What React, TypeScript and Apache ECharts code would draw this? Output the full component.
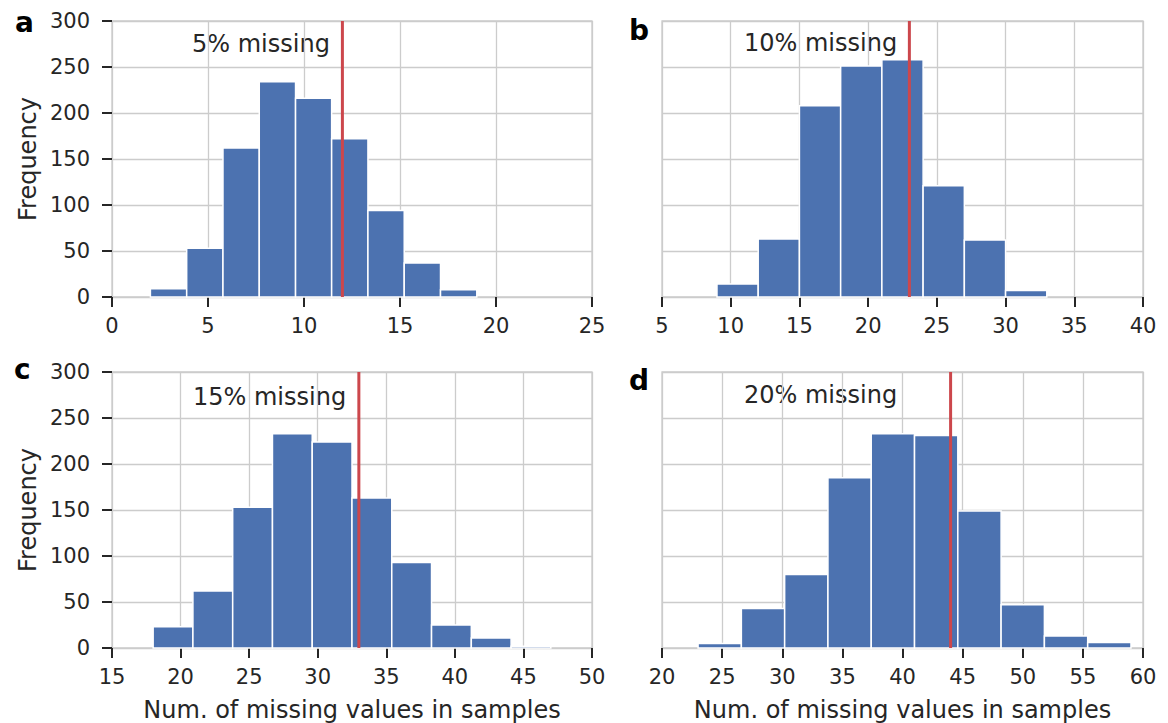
import React, { useEffect, useRef } from "react";
import * as echarts from "echarts";

// ---- data ----
const edgesA = [2, 3.89, 5.78, 7.67, 9.56, 11.44, 13.33, 15.22, 17.11, 19];
const countsA = [9, 53, 162, 234, 216, 172, 94, 37, 8];
const edgesB = [9, 12, 15, 18, 21, 24, 27, 30, 33];
const countsB = [14, 63, 208, 251, 258, 121, 62, 7];
const edgesC = [18, 20.9, 23.8, 26.7, 29.6, 32.5, 35.4, 38.3, 41.2, 44.1, 47];
const countsC = [23, 62, 153, 233, 224, 163, 93, 25, 11, 2];
const edgesD = [23, 26.6, 30.2, 33.8, 37.4, 41, 44.6, 48.2, 51.8, 55.4, 59];
const countsD = [5, 43, 80, 185, 233, 231, 149, 47, 13, 6];

const redLines = [12, 23, 33, 44];
const xRanges = [
  [0, 25],
  [5, 40],
  [15, 50],
  [20, 60],
];
const panelLabels = ["a", "b", "c", "d"];
const missingLabels = ["5% missing", "10% missing", "15% missing", "20% missing"];
const yMax = 300;
const yStep = 50;
const xStep = 5;
const xName = "Num. of missing values in samples";
const yName = "Frequency";

const BLUE = "#4c72b0";
const RED = "#cc474c";
const TXT = "#262626";
const GRIDC = "#cccccc";
const FONT = "DejaVu Sans";

function toBins(edges: number[], counts: number[]) {
  return counts.map((c, i) => [edges[i], edges[i + 1], c]);
}

const App: React.FC = () => {
  const ref = useRef<HTMLDivElement>(null);
  useEffect(() => {
    if (!ref.current) return;
    const chart = echarts.init(ref.current, null, { renderer: "svg" });
    const grids = [
      { left: 112, top: 21, width: 480, height: 276 },
      { left: 662, top: 21, width: 481, height: 276 },
      { left: 112, top: 372, width: 480, height: 276 },
      { left: 662, top: 372, width: 481, height: 276 },
    ];
    const binsAll = [
      toBins(edgesA, countsA),
      toBins(edgesB, countsB),
      toBins(edgesC, countsC),
      toBins(edgesD, countsD),
    ];
    const xAxes = grids.map((_, i) => ({
      type: "value",
      gridIndex: i,
      min: xRanges[i][0],
      max: xRanges[i][1],
      interval: xStep,
      axisLine: { show: false },
      axisTick: { show: true, length: 10, lineStyle: { color: TXT, width: 2 } },
      axisLabel: { fontSize: 21, color: TXT, fontFamily: FONT, margin: 18 },
      splitLine: { show: true, lineStyle: { color: GRIDC, width: 1.3 } },
      name: i >= 2 ? xName : "",
      nameLocation: "middle",
      nameGap: 50,
      nameTextStyle: { fontSize: 24, color: TXT, fontFamily: FONT },
    }));
    const yAxes = grids.map((_, i) => ({
      type: "value",
      gridIndex: i,
      min: 0,
      max: yMax,
      interval: yStep,
      axisLine: { show: false },
      axisTick: { show: i % 2 === 0, length: 10, lineStyle: { color: TXT, width: 2 } },
      axisLabel: { show: i % 2 === 0, fontSize: 21, color: TXT, fontFamily: FONT, margin: 22 },
      splitLine: { show: true, lineStyle: { color: GRIDC, width: 1.3 } },
      name: i % 2 === 0 ? yName : "",
      nameLocation: "middle",
      nameGap: 72,
      nameRotate: 90,
      nameTextStyle: { fontSize: 24, color: TXT, fontFamily: FONT },
    }));
    const series: any[] = [];
    binsAll.forEach((bins, i) => {
      series.push({
        type: "custom",
        xAxisIndex: i,
        yAxisIndex: i,
        data: bins,
        encode: { x: [0, 1], y: 2 },
        renderItem: (_p: any, api: any) => {
          const p0 = api.coord([api.value(0), api.value(2)]);
          const p1 = api.coord([api.value(1), 0]);
          return {
            type: "rect",
            shape: { x: p0[0], y: p0[1], width: p1[0] - p0[0], height: p1[1] - p0[1] },
            style: { fill: BLUE, stroke: "#ffffff", lineWidth: 1.5 },
          };
        },
      });
    });
    redLines.forEach((v, i) => {
      series.push({
        type: "line",
        xAxisIndex: i,
        yAxisIndex: i,
        data: [
          [v, 0],
          [v, yMax],
        ],
        symbol: "none",
        lineStyle: { color: RED, width: 3 },
        z: 5,
      });
    });
    const letterPos = [
      [15, 22],
      [629, 30],
      [14, 369],
      [629, 380],
    ];
    const notePos = [
      [192, 44],
      [744, 43],
      [193, 397],
      [744, 395],
    ];
    const graphic: any[] = [];
    panelLabels.forEach((t, i) => {
      graphic.push({
        type: "text",
        x: letterPos[i][0],
        y: letterPos[i][1],
        style: {
          text: t,
          font: `bold 28px "${FONT}"`,
          fill: "#000000",
          verticalAlign: "middle",
        },
      });
      graphic.push({
        type: "text",
        x: notePos[i][0],
        y: notePos[i][1],
        style: {
          text: missingLabels[i],
          font: `24px "${FONT}"`,
          fill: TXT,
          verticalAlign: "middle",
        },
      });
    });
    chart.setOption({
      animation: false,
      backgroundColor: "#ffffff",
      grid: grids.map((g) => ({ ...g, show: true, borderColor: GRIDC, borderWidth: 1.3, backgroundColor: "transparent" })),
      xAxis: xAxes,
      yAxis: yAxes,
      series,
      graphic,
    });
    return () => chart.dispose();
  }, []);
  return (
    <div
      ref={ref}
      style={{ position: "absolute", left: 0, top: 0, width: 1168, height: 723 }}
    />
  );
};

export default App;
